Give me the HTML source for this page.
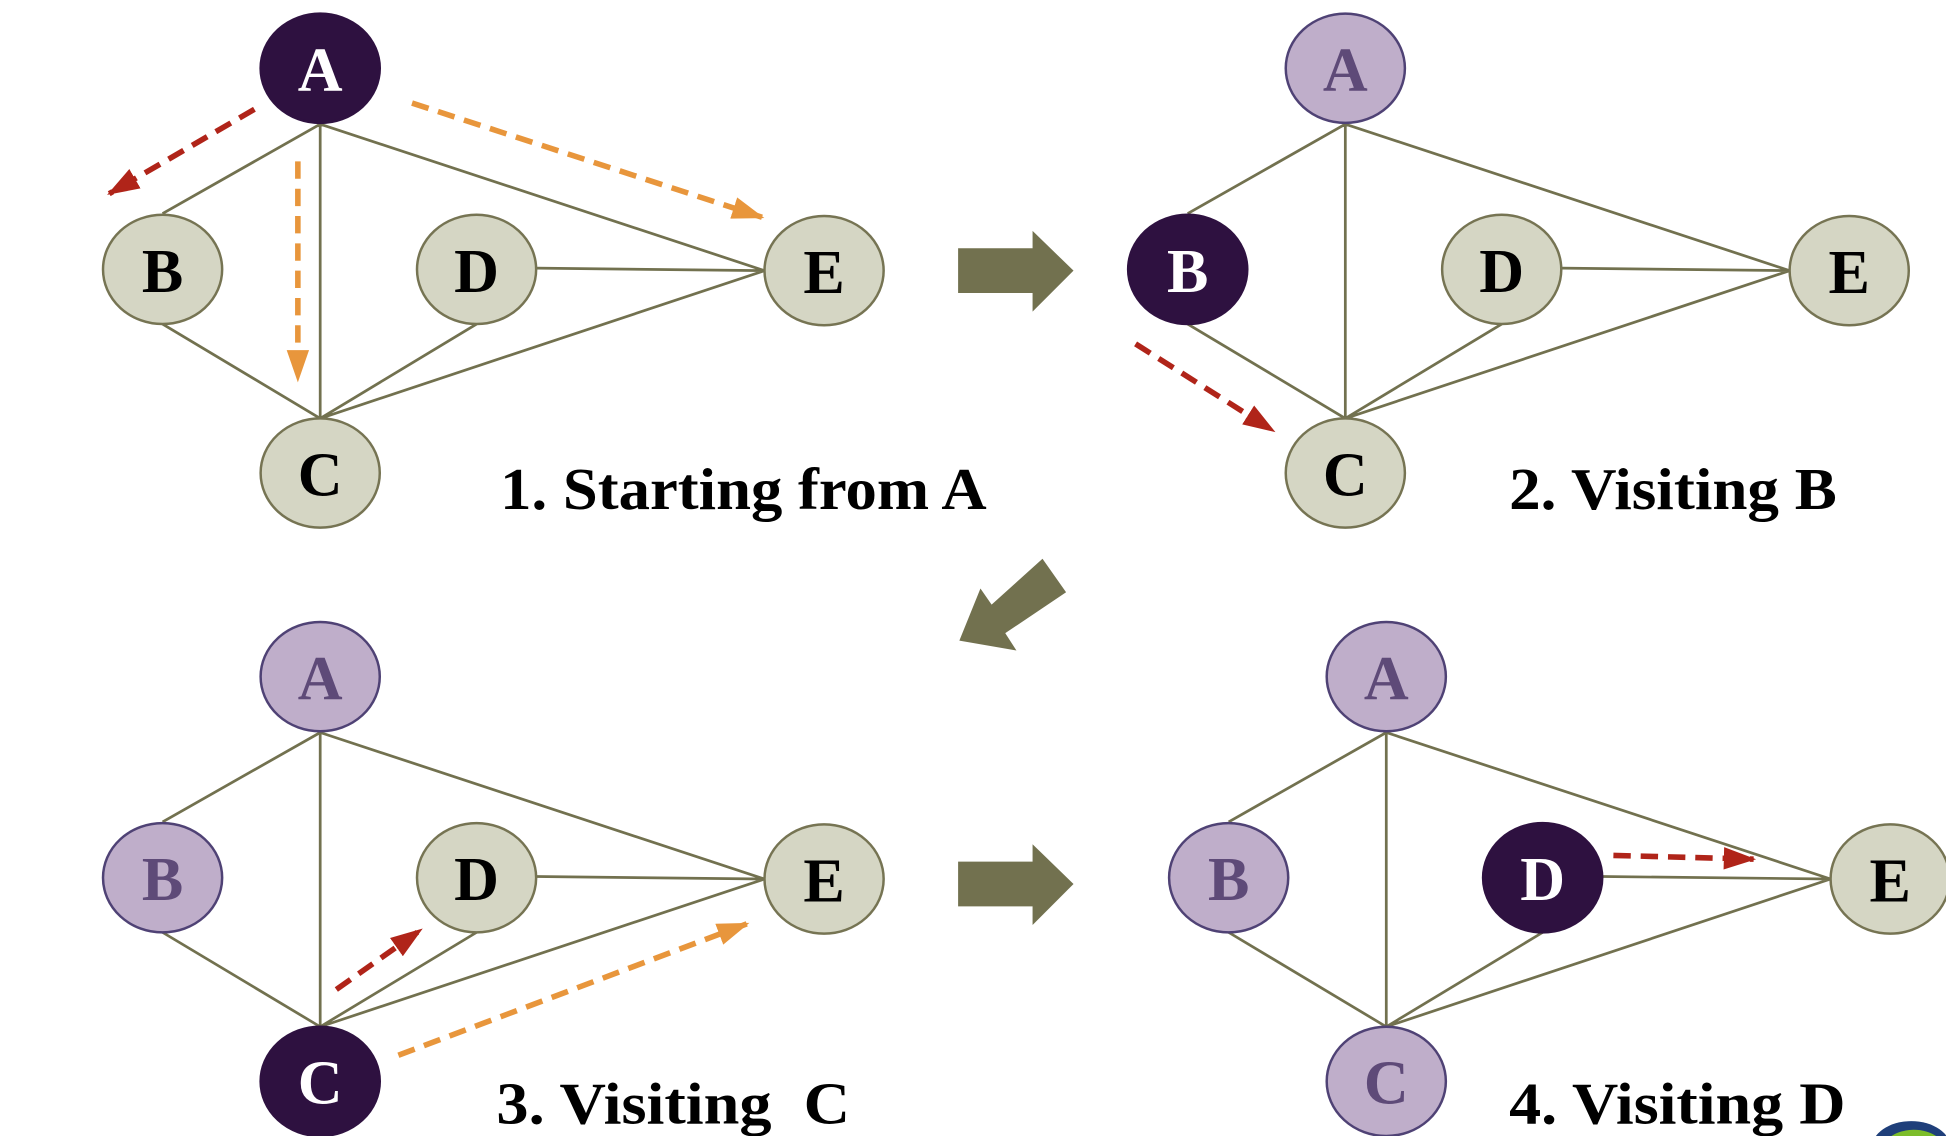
<!DOCTYPE html>
<html><head><meta charset="utf-8"><style>
html,body{margin:0;padding:0;background:#fff;overflow:hidden}
svg{display:block}
.e{stroke:#72714f;stroke-width:2.2;fill:none}
.u{fill:#d5d6c4;stroke:#767453;stroke-width:2}
.v{fill:#bfaeca;stroke:#4f4275;stroke-width:2}
.k{fill:#2e1140;stroke:#2e1140;stroke-width:2}
.t{font-family:"Liberation Serif",serif;font-weight:bold;font-size:50px;text-anchor:middle}
.lb{font-family:"Liberation Serif",serif;font-weight:bold;font-size:48px;fill:#000}
.r{stroke:#b02419;stroke-width:4.5;stroke-dasharray:14 8;fill:none}
.o{stroke:#e8963c;stroke-width:4.5;stroke-dasharray:14 8;fill:none}
</style></head><body>
<svg width="1946" height="1136" viewBox="0 0 1568 915" preserveAspectRatio="none">
<defs>
<marker id="mr" markerWidth="26" markerHeight="18" refX="24" refY="9" orient="auto" markerUnits="userSpaceOnUse"><path d="M0,0L26,9L0,18z" fill="#b02419"/></marker>
<marker id="mo" markerWidth="26" markerHeight="18" refX="24" refY="9" orient="auto" markerUnits="userSpaceOnUse"><path d="M0,0L26,9L0,18z" fill="#e8963c"/></marker>
<g id="edges">
<path class="e" d="M131,172L258,100L258,337M258,100L616,218M432,216L616,218M131,261L258,337M384,261L258,337L616,218"/>
</g>
</defs>

<g>
<use href="#edges"/>
<ellipse class="k" cx="258" cy="55" rx="48" ry="44"/><text class="t" x="258" y="73" fill="#fff">A</text>
<ellipse class="u" cx="131" cy="217" rx="48" ry="44"/><text class="t" x="131" y="235">B</text>
<ellipse class="u" cx="384" cy="217" rx="48" ry="44"/><text class="t" x="384" y="235">D</text>
<ellipse class="u" cx="664" cy="218" rx="48" ry="44"/><text class="t" x="664" y="236">E</text>
<ellipse class="u" cx="258" cy="381" rx="48" ry="44"/><text class="t" x="258" y="399">C</text>
<line class="r" x1="205" y1="88" x2="88" y2="156" marker-end="url(#mr)"/>
<line class="o" x1="240" y1="130" x2="240" y2="306" marker-end="url(#mo)"/>
<line class="o" x1="332" y1="83" x2="614" y2="175" marker-end="url(#mo)"/>
<text class="lb" x="403" y="410" textLength="392" lengthAdjust="spacingAndGlyphs">1. Starting from A</text>
</g>

<g transform="translate(826,0)">
<use href="#edges"/>
<ellipse class="v" cx="258" cy="55" rx="48" ry="44"/><text class="t" x="258" y="73" fill="#5e4a78">A</text>
<ellipse class="k" cx="131" cy="217" rx="48" ry="44"/><text class="t" x="131" y="235" fill="#fff">B</text>
<ellipse class="u" cx="384" cy="217" rx="48" ry="44"/><text class="t" x="384" y="235">D</text>
<ellipse class="u" cx="664" cy="218" rx="48" ry="44"/><text class="t" x="664" y="236">E</text>
<ellipse class="u" cx="258" cy="381" rx="48" ry="44"/><text class="t" x="258" y="399">C</text>
<line class="r" x1="89" y1="277" x2="200" y2="347" marker-end="url(#mr)"/>
<text class="lb" x="390" y="410" textLength="264" lengthAdjust="spacingAndGlyphs">2. Visiting B</text>
</g>

<g transform="translate(0,490)">
<use href="#edges"/>
<ellipse class="v" cx="258" cy="55" rx="48" ry="44"/><text class="t" x="258" y="73" fill="#5e4a78">A</text>
<ellipse class="v" cx="131" cy="217" rx="48" ry="44"/><text class="t" x="131" y="235" fill="#5e4a78">B</text>
<ellipse class="u" cx="384" cy="217" rx="48" ry="44"/><text class="t" x="384" y="235">D</text>
<ellipse class="u" cx="664" cy="218" rx="48" ry="44"/><text class="t" x="664" y="236">E</text>
<ellipse class="k" cx="258" cy="381" rx="48" ry="44"/><text class="t" x="258" y="399" fill="#fff">C</text>
<line class="r" x1="271" y1="307" x2="339" y2="259" marker-end="url(#mr)"/>
<line class="o" x1="321" y1="360" x2="602" y2="254" marker-end="url(#mo)"/>
<text class="lb" x="400" y="415" xml:space="preserve" textLength="285" lengthAdjust="spacingAndGlyphs">3. Visiting  C</text>
</g>

<g transform="translate(859,490)">
<use href="#edges"/>
<ellipse class="v" cx="258" cy="55" rx="48" ry="44"/><text class="t" x="258" y="73" fill="#5e4a78">A</text>
<ellipse class="v" cx="131" cy="217" rx="48" ry="44"/><text class="t" x="131" y="235" fill="#5e4a78">B</text>
<ellipse class="k" cx="384" cy="217" rx="48" ry="44"/><text class="t" x="384" y="235" fill="#fff">D</text>
<ellipse class="u" cx="664" cy="218" rx="48" ry="44"/><text class="t" x="664" y="236">E</text>
<ellipse class="v" cx="258" cy="381" rx="48" ry="44"/><text class="t" x="258" y="399" fill="#5e4a78">C</text>
<line class="r" x1="441" y1="199" x2="554" y2="202" marker-end="url(#mr)"/>
<text class="lb" x="357" y="415" textLength="271" lengthAdjust="spacingAndGlyphs">4. Visiting D</text>
</g>

<path d="M772,200L832,200L832,186L865,218L832,251L832,236L772,236z" fill="#72714f"/>
<path d="M772,694L832,694L832,680L865,712L832,745L832,730L772,730z" fill="#72714f"/>
<path d="M840,450L859,477L810,510L819,524L773,516L790,474L799,487z" fill="#72714f"/>

<ellipse cx="1540" cy="925" rx="32" ry="22" fill="#1f3f7a"/>
<ellipse cx="1542" cy="928" rx="26" ry="18" fill="#7cbd2a"/>
</svg>
</body></html>
